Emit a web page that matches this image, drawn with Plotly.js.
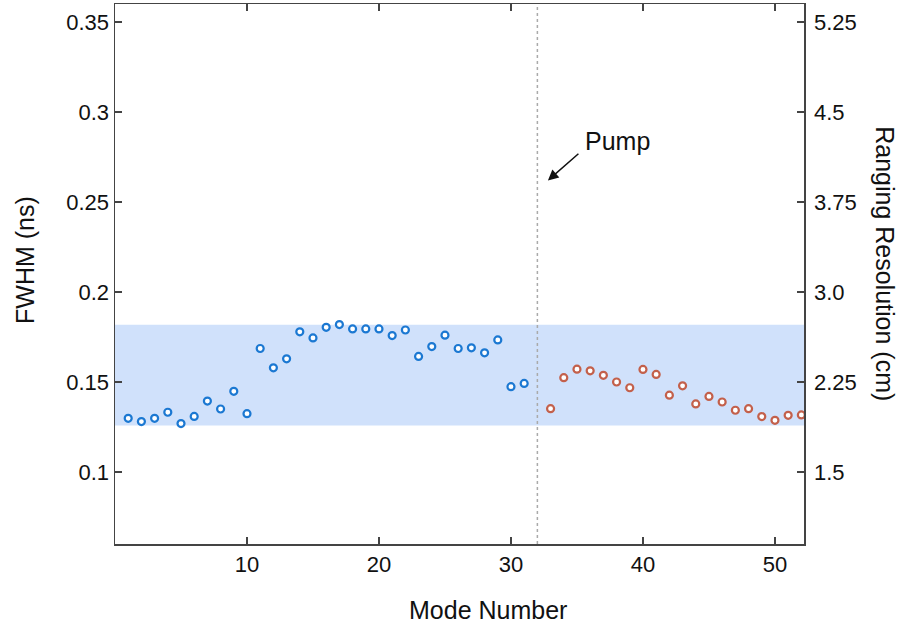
<!DOCTYPE html>
<html>
<head>
<meta charset="utf-8">
<script src="https://cdn.plot.ly/plotly-3.0.1.min.js"></script>
<style>html,body{margin:0;padding:0;background:#fff;}#chart{width:905px;height:626px;}</style>
</head>
<body>
<div id="chart"></div>
<script>
// Signal modes (before pump) and idler modes (after pump)
const modesSignal = [1,2,3,4,5,6,7,8,9,10,11,12,13,14,15,16,17,18,19,20,21,22,23,24,25,26,27,28,29,30,31];
const fwhmSignal = [0.1298,0.1280,0.1298,0.1332,0.1269,0.1309,0.1394,0.1350,0.1448,0.1324,0.1686,0.1579,0.1629,0.1779,0.1745,0.1804,0.1819,0.1795,0.1795,0.1795,0.1758,0.1789,0.1642,0.1697,0.1760,0.1686,0.1690,0.1662,0.1734,0.1474,0.1492];
const modesIdler = [33,34,35,36,37,38,39,40,41,42,43,44,45,46,47,48,49,50,51,52];
const fwhmIdler = [0.1352,0.1524,0.1571,0.1562,0.1537,0.1500,0.1468,0.1570,0.1542,0.1427,0.1479,0.1378,0.1420,0.1389,0.1343,0.1352,0.1308,0.1287,0.1315,0.1317];
const pumpMode = 32;
const bandRange = [0.1258, 0.1818];
const xTicks = [10,20,30,40,50];
const yTicks = [0.1,0.15,0.2,0.25,0.3,0.35];
const yTickText = ['0.1','0.15','0.2','0.25','0.3','0.35'];
const y2Ticks = [1.5,2.25,3.0,3.75,4.5,5.25];
const y2TickText = ['1.5','2.25','3.0','3.75','4.5','5.25'];
const xTitle = 'Mode Number';
const yTitle = 'FWHM (ns)';
const y2Title = 'Ranging Resolution (cm)';

const fam = 'Liberation Sans, Arial, sans-serif';
const tickFont = {family: fam, size: 22, color: '#111'};
const titleFont = {family: fam, size: 25, color: '#111'};
const axisCommon = {
  showline: true, linecolor: '#444', linewidth: 1.5,
  ticks: 'inside', ticklen: 7, tickwidth: 1.5, tickcolor: '#444',
  showgrid: false, zeroline: false, tickfont: tickFont
};

function markerStyle(c) {
  return {symbol: 'circle', size: 7, color: '#ffffff', line: {color: c, width: 2.2}};
}

const traces = [
  {x: modesSignal, y: fwhmSignal, type: 'scatter', mode: 'markers', marker: markerStyle('#1b78d2'), hoverinfo: 'x+y'},
  {x: modesIdler, y: fwhmIdler, type: 'scatter', mode: 'markers', marker: markerStyle('#c3604b'), hoverinfo: 'x+y'},
  {x: [], y: [], type: 'scatter', mode: 'markers', yaxis: 'y2', showlegend: false}
];

const layout = {
  width: 905, height: 626,
  margin: {l: 115, r: 101, t: 4, b: 82},
  paper_bgcolor: '#fff', plot_bgcolor: '#fff',
  showlegend: false,
  font: tickFont,
  xaxis: Object.assign({}, axisCommon, {
    range: [0, 52.2], tickvals: xTicks, mirror: 'ticks'
  }),
  yaxis: Object.assign({}, axisCommon, {
    range: [0.06, 0.36], tickvals: yTicks, ticktext: yTickText
  }),
  yaxis2: Object.assign({}, axisCommon, {
    overlaying: 'y', side: 'right', range: [0.9, 5.4],
    tickvals: y2Ticks, ticktext: y2TickText, ticklabelstandoff: 4
  }),
  shapes: [
    {type: 'rect', xref: 'paper', yref: 'y', x0: 0, x1: 1, y0: bandRange[0], y1: bandRange[1],
     fillcolor: '#d0e1fb', line: {width: 0}, layer: 'below'},
    {type: 'line', xref: 'x', yref: 'paper', x0: pumpMode, x1: pumpMode, y0: 0, y1: 1,
     line: {color: '#aaaaaa', width: 1.5, dash: 'dot'}, layer: 'below'}
  ],
  annotations: [
    {x: 32.8, y: 0.262, xref: 'x', yref: 'y', text: '', showarrow: true,
     ax: 32, ay: -28, arrowhead: 2, arrowsize: 1.4, arrowwidth: 1.5, arrowcolor: '#111'},
    {x: 38.1, y: 0.284, xref: 'x', yref: 'y', text: 'Pump', showarrow: false, font: titleFont},
    {x: 0.541, y: -0.122, xref: 'paper', yref: 'paper', text: xTitle, showarrow: false,
     xanchor: 'center', yanchor: 'middle', font: titleFont},
    {x: -0.1306, y: 0.526, xref: 'paper', yref: 'paper', text: yTitle, showarrow: false,
     textangle: -90, xanchor: 'center', yanchor: 'middle', font: titleFont},
    {x: 1.1176, y: 0.52, xref: 'paper', yref: 'paper', text: y2Title, showarrow: false,
     textangle: 90, xanchor: 'center', yanchor: 'middle', font: titleFont}
  ]
};

Plotly.newPlot('chart', traces, layout, {displayModeBar: false, staticPlot: true});
</script>
</body>
</html>
